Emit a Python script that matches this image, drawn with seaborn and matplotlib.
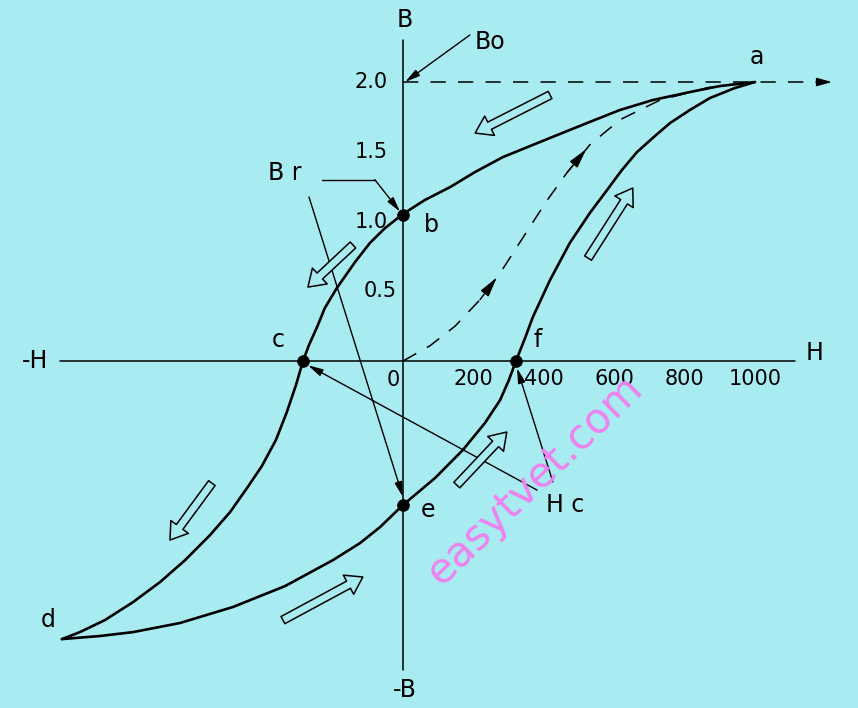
# Hysteresis loop (B-H curve) redrawn with seaborn / matplotlib
import numpy as np
import pandas as pd
import matplotlib
matplotlib.use('Agg')
import matplotlib.pyplot as plt
from matplotlib.patches import FancyArrowPatch
import seaborn as sns

# --- Data (H in A/m, B in T) ---
# descending branch a -> b -> c -> d
down_H = [1000, 900, 815, 710, 616, 523, 403, 284, 205, 134, 62, 0, -51, -94, -136, -188, -222,
          -244, -267, -284, -304, -330, -361, -401, -443, -491, -548, -619, -690, -767, -847, -918, -969]
down_B = [2.0, 1.971, 1.928, 1.871, 1.799, 1.706, 1.584, 1.462, 1.355, 1.247, 1.154, 1.054, 0.953,
          0.846, 0.710, 0.523, 0.380, 0.244, 0.115, 0.0, -0.172, -0.366, -0.566, -0.753, -0.910,
          -1.082, -1.247, -1.427, -1.584, -1.728, -1.857, -1.943, -1.993]
# ascending branch d -> e -> f -> a
up_H = [-969, -861, -767, -634, -483, -335, -199, -122, -65, 0, 91, 170, 233, 276, 301, 321, 347,
        369, 418, 474, 531, 580, 622, 665, 716, 759, 815, 872, 943, 1000]
up_B = [-1.993, -1.971, -1.943, -1.878, -1.763, -1.613, -1.427, -1.305, -1.190, -1.032, -0.839,
        -0.638, -0.444, -0.280, -0.136, 0.0, 0.165, 0.315, 0.581, 0.846, 1.061, 1.226, 1.369,
        1.498, 1.613, 1.706, 1.799, 1.885, 1.957, 2.0]
# initial magnetisation curve 0 -> a (dashed)
init_H = [0, 77, 148, 219, 276, 332, 409, 466, 531, 617, 730, 866, 1000]
init_B = [0.0, 0.11, 0.25, 0.44, 0.63, 0.85, 1.15, 1.35, 1.55, 1.73, 1.87, 1.96, 2.0]

# marked points b, c, e, f
pt_names = ['b', 'c', 'e', 'f']
pt_H = [0, -285, 0, 321]
pt_B = [1.05, 0.0, -1.03, 0.0]

h_ticks = [200, 400, 600, 800, 1000]
b_ticks = [0.5, 1.0, 1.5, 2.0]
b_tick_labels = ['0.5', '1.0', '1.5', '2.0']

bg = '#a8ecf2'

sns.set_style('white')
plt.rcParams['font.family'] = ['DejaVu Sans']
plt.rcParams['text.color'] = 'black'

fig = plt.figure(figsize=(8.58, 7.08), dpi=100)
fig.patch.set_facecolor(bg)
ax = fig.add_axes([0, 0, 1, 1])
ax.set_facecolor(bg)
ax.set_xlim(-1145, 1293)
ax.set_ylim(-2.487, 2.588)
ax.axis('off')

# axes lines
ax.plot([-974, 1114], [0, 0], color='black', lw=1.1)
ax.plot([0, 0], [-2.215, 2.30], color='black', lw=1.1)

# loop curves
down = pd.DataFrame({'H': down_H, 'B': down_B})
up = pd.DataFrame({'H': up_H, 'B': up_B})
init = pd.DataFrame({'H': init_H, 'B': init_B})
sns.lineplot(data=down, x='H', y='B', sort=False, color='black', lw=1.9, ax=ax)
sns.lineplot(data=up, x='H', y='B', sort=False, color='black', lw=1.9, ax=ax)
sns.lineplot(data=init, x='H', y='B', sort=False, color='black', lw=1.1,
             linestyle=(0, (10, 8)), ax=ax)

# saturation line (dashed, with arrow)
ax.plot([0, 1200], [2.0, 2.0], color='black', lw=1.1, linestyle=(0, (10, 8)))
ax.annotate('', xy=(1227, 2.0), xytext=(1170, 2.0),
            arrowprops=dict(arrowstyle='-|>,head_length=0.9,head_width=0.25', color='black', lw=1.1))

# small arrow heads on dashed curve
for i in [3, 7]:
    ax.annotate('', xy=(init_H[i + 1], init_B[i + 1]), xytext=(init_H[i], init_B[i]),
                arrowprops=dict(arrowstyle='-|>,head_length=1.2,head_width=0.3', color='black', lw=1.0,
                                shrinkA=0, shrinkB=4))

# points
sns.scatterplot(x=pt_H, y=pt_B, color='black', s=70, zorder=5, ax=ax, edgecolor='black')

# tick labels
for h in h_ticks:
    ax.text(h, -0.13, str(h), ha='center', va='center', fontsize=15)
for b, lab in zip(b_ticks, b_tick_labels):
    ax.text(-65 if b == 0.5 else -90, b, lab, ha='center', va='center', fontsize=15)
ax.text(-28, -0.136, '0', ha='center', va='center', fontsize=15)

# letters
ax.text(6, 2.444, 'B', ha='center', va='center', fontsize=17)
ax.text(6, -2.36, '-B', ha='center', va='center', fontsize=17)
ax.text(1170, 0.057, 'H', ha='center', va='center', fontsize=17)
ax.text(-1045, 0.0, '-H', ha='center', va='center', fontsize=17)
ax.text(247, 2.287, 'Bo', ha='center', va='center', fontsize=17)
ax.text(-335, 1.35, 'B r', ha='center', va='center', fontsize=17)
ax.text(460, -1.03, 'H c', ha='center', va='center', fontsize=17)
ax.text(1006, 2.18, 'a', ha='center', va='center', fontsize=17)
ax.text(82, 0.975, 'b', ha='center', va='center', fontsize=17)
ax.text(-355, 0.15, 'c', ha='center', va='center', fontsize=17)
ax.text(-1008, -1.857, 'd', ha='center', va='center', fontsize=17)
ax.text(71, -1.07, 'e', ha='center', va='center', fontsize=17)
ax.text(384, 0.15, 'f', ha='center', va='center', fontsize=17)

# pointer arrows
thin = dict(arrowstyle='-|>,head_length=0.9,head_width=0.22', color='black', lw=1.0, shrinkA=0, shrinkB=0)
ax.annotate('', xy=(6, 2.0), xytext=(190, 2.337), arrowprops=thin)
ax.plot([-230, -80], [1.3, 1.3], color='black', lw=1.0)
ax.annotate('', xy=(-8, 1.07), xytext=(-80, 1.3), arrowprops=thin)
ax.annotate('', xy=(0, -0.975), xytext=(-267, 1.176), arrowprops=thin)
ax.annotate('', xy=(-270, -0.03), xytext=(381, -0.925), arrowprops=thin)
ax.annotate('', xy=(324, -0.05), xytext=(426, -0.867), arrowprops=thin)

# hollow direction arrows
hollow = [((418, 1.907), (205, 1.634)),
          ((-142, 0.832), (-270, 0.53)),
          ((-543, -0.875), (-662, -1.283)),
          ((-341, -1.857), (-114, -1.548)),
          ((153, -0.889), (295, -0.509)),
          ((526, 0.738), (653, 1.24))]
for tail, head in hollow:
    ax.add_patch(FancyArrowPatch(tail, head,
                                 arrowstyle='simple,tail_width=0.45,head_width=1.2,head_length=0.9',
                                 mutation_scale=13, facecolor=bg, edgecolor='black', lw=1.1,
                                 shrinkA=0, shrinkB=0, zorder=4))

# watermark
ax.text(375, -0.853, 'easytvet.com', ha='center', va='center', fontsize=30,
        rotation=44, color='#ee82ee', zorder=6)

plt.savefig('out.png', dpi=100, facecolor=bg)
